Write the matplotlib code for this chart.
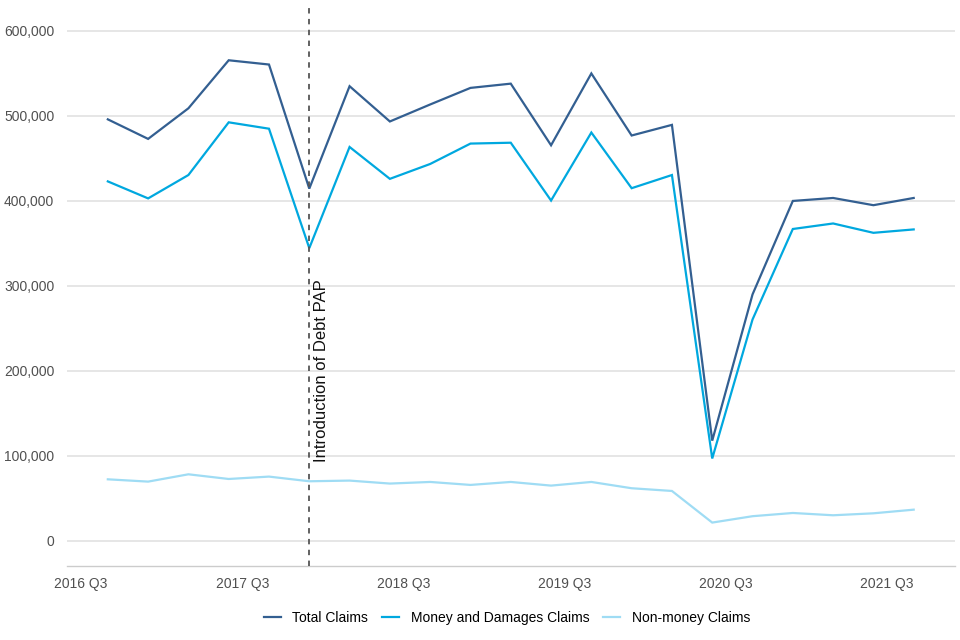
"""
County Court claims by quarter, 2016 Q3 to 2021 Q3.

Output:
    out.png
"""

import matplotlib

matplotlib.use("Agg")
import matplotlib.pyplot as plt
from matplotlib.ticker import FuncFormatter

plt.rcParams["font.family"] = ["Liberation Sans", "DejaVu Sans"]

QUARTERS = [
    "2016 Q3", "2016 Q4", "2017 Q1", "2017 Q2", "2017 Q3", "2017 Q4",
    "2018 Q1", "2018 Q2", "2018 Q3", "2018 Q4", "2019 Q1", "2019 Q2",
    "2019 Q3", "2019 Q4", "2020 Q1", "2020 Q2", "2020 Q3", "2020 Q4",
    "2021 Q1", "2021 Q2", "2021 Q3",
]
TOTAL_CLAIMS = [
    496000, 473000, 509000, 565500, 560500, 414500, 535000, 493500,
    513500, 533000, 538000, 465500, 550000, 477000, 489500, 118000,
    290000, 400000, 403500, 395000, 403500,
]
MONEY_CLAIMS = [
    423000, 403000, 430500, 492500, 485000, 344500, 463500, 426000,
    443500, 467500, 468500, 400500, 480500, 415000, 430500, 97000,
    260500, 367000, 373500, 362500, 366500,
]
NON_MONEY_CLAIMS = [
    72500, 69800, 78400, 72900, 75700, 70200, 71000, 67500,
    69400, 65900, 69400, 65100, 69400, 62000, 58800, 21600,
    29100, 32900, 30200, 32500, 36800,
]
TICK_QUARTERS = ["2016 Q3", "2017 Q3", "2018 Q3", "2019 Q3", "2020 Q3", "2021 Q3"]
EVENT_QUARTER = "2017 Q4"
EVENT_LABEL = "Introduction of Debt PAP"

SERIES = [
    ("Total Claims", TOTAL_CLAIMS, "#335f91"),
    ("Money and Damages Claims", MONEY_CLAIMS, "#00a8df"),
    ("Non-money Claims", NON_MONEY_CLAIMS, "#9fdcf4"),
]


def main() -> None:
    fig = plt.figure(figsize=(9.6, 6.4), dpi=100)
    ax = fig.add_axes([0.0695, 0.1156, 0.9255, 0.8719])

    x = list(range(len(QUARTERS)))
    for label, values, color in SERIES:
        ax.plot(x, values, color=color, linewidth=1.6, label=label, solid_joinstyle="miter")

    event_x = QUARTERS.index(EVENT_QUARTER)
    ax.axvline(event_x, color="#555555", linewidth=1.3, linestyle=(0, (3, 3)), zorder=3)
    ax.text(event_x + 0.12, 93000, EVENT_LABEL, rotation=90, ha="left", va="bottom",
            fontsize=12, color="#111111")

    ax.set_xlim(-1.02, 21.03)
    ax.set_ylim(-29500, 627000)
    ax.set_yticks(range(0, 600001, 100000))
    ax.yaxis.set_major_formatter(FuncFormatter(lambda v, _: f"{int(v):,}"))
    ax.set_xticks([QUARTERS.index(q) for q in TICK_QUARTERS])
    ax.set_xticklabels(TICK_QUARTERS, ha="right")

    ax.grid(axis="y", color="#e1e1e1", linewidth=1.2)
    ax.set_axisbelow(True)
    for side in ["left", "right", "top"]:
        ax.spines[side].set_visible(False)
    ax.spines["bottom"].set_color("#cccccc")
    ax.spines["bottom"].set_linewidth(1.0)
    ax.tick_params(axis="both", length=0, labelsize=10, labelcolor="#505050")
    ax.tick_params(axis="x", pad=8)
    ax.tick_params(axis="y", pad=9)

    fig.legend(loc="center", bbox_to_anchor=(0.528, 0.034), ncol=3, frameon=False,
               fontsize=10, handlelength=1.2, handletextpad=0.85, columnspacing=1.0)

    fig.savefig("out.png", dpi=100)
    plt.close(fig)


if __name__ == "__main__":
    main()
